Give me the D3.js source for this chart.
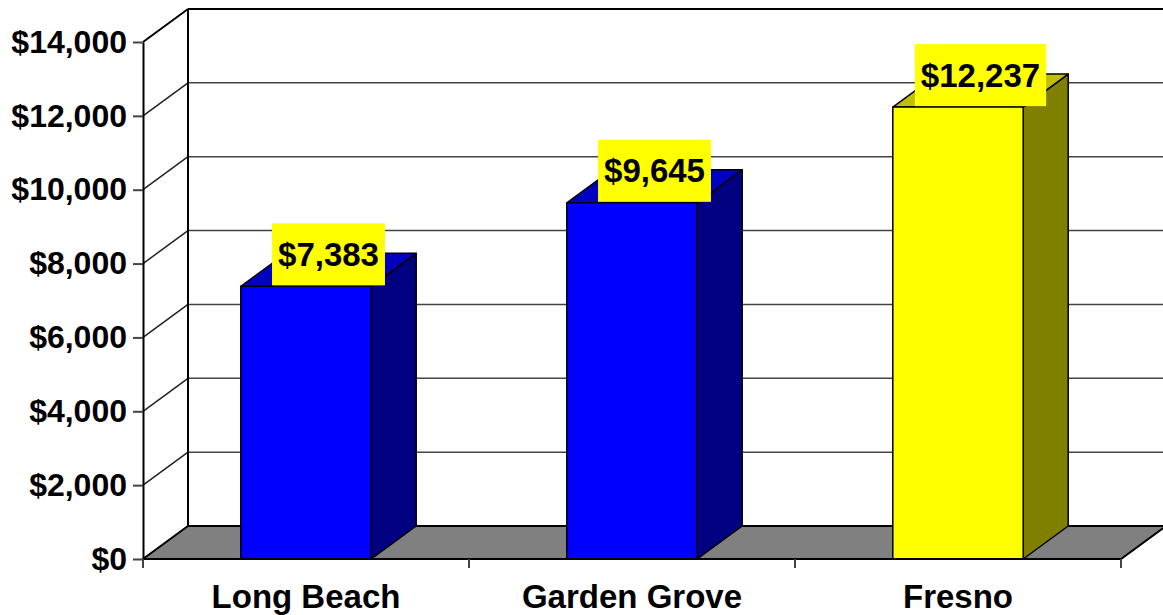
<!DOCTYPE html>
<html>
<head>
<meta charset="utf-8">
<script src="https://cdn.jsdelivr.net/npm/d3@7"></script>
<style>
  html, body { margin: 0; padding: 0; background: #fff; }
  svg { display: block; }
  text { font-family: "Liberation Sans", Arial, sans-serif; font-weight: bold; fill: #000; }
</style>
</head>
<body>
<svg id="chart" width="1163" height="615"></svg>
<script>
// Average cost per city
const categories = ["Long Beach", "Garden Grove", "Fresno"];
const values = [7383, 9645, 12237];
const highlight = [false, false, true];
const yTicks = [0, 2000, 4000, 6000, 8000, 10000, 12000, 14000];

const W = 1163, H = 615;
const plotLeft = 143, plotRight = 1121, plotBottom = 559, plotTop = 42;
const depthX = 45, depthY = -33;   // oblique offset of the back plane

const svg = d3.select("#chart");
const fmt = d3.format("$,");

const y = d3.scaleLinear().domain([0, 14000]).range([plotBottom, plotTop]);
const x = d3.scaleBand().domain(categories).range([plotLeft, plotRight])
  .paddingInner(0.6).paddingOuter(0.3);

const pt = (a, b) => a + "," + b;

// Floor
svg.append("polygon")
  .attr("points", [pt(plotLeft, plotBottom), pt(plotRight, plotBottom),
                   pt(plotRight + depthX, plotBottom + depthY), pt(plotLeft + depthX, plotBottom + depthY)].join(" "))
  .attr("fill", "#808080").attr("stroke", "#000").attr("stroke-width", 2);

// Gridlines on the back wall and the left side wall
const grid = svg.append("g");
yTicks.filter(t => t > 0).forEach(t => {
  const yy = y(t);
  const isTop = t === 14000;
  grid.append("line")
    .attr("x1", plotLeft + depthX).attr("x2", W + 5)
    .attr("y1", yy + depthY).attr("y2", yy + depthY)
    .attr("stroke", isTop ? "#000" : "#444").attr("stroke-width", isTop ? 2 : 1.5);
  grid.append("line")
    .attr("x1", plotLeft).attr("x2", plotLeft + depthX)
    .attr("y1", yy).attr("y2", yy + depthY)
    .attr("stroke", isTop ? "#000" : "#222").attr("stroke-width", isTop ? 2 : 1.5);
});
// Back wall left edge
grid.append("line")
  .attr("x1", plotLeft + depthX).attr("x2", plotLeft + depthX)
  .attr("y1", y(14000) + depthY).attr("y2", plotBottom + depthY)
  .attr("stroke", "#000").attr("stroke-width", 2);

// Bars as oblique boxes
const colors = {
  normal: { front: "#0000FF", side: "#000080", top: "#0000C0" },
  hi: { front: "#FFFF00", side: "#808000", top: "#C0C000" }
};
const bars = svg.append("g");
categories.forEach((c, i) => {
  const col = highlight[i] ? colors.hi : colors.normal;
  const x0 = x(c), x1 = x(c) + x.bandwidth();
  const y0 = y(0), y1 = y(values[i]);
  const g = bars.append("g").attr("stroke", "#000").attr("stroke-width", 1.5)
    .attr("stroke-linejoin", "round");
  g.append("polygon").attr("fill", col.side)
    .attr("points", [pt(x1, y0), pt(x1 + depthX, y0 + depthY),
                     pt(x1 + depthX, y1 + depthY), pt(x1, y1)].join(" "));
  g.append("polygon").attr("fill", col.top)
    .attr("points", [pt(x0, y1), pt(x1, y1),
                     pt(x1 + depthX, y1 + depthY), pt(x0 + depthX, y1 + depthY)].join(" "));
  g.append("rect").attr("fill", col.front)
    .attr("x", x0).attr("y", y1).attr("width", x1 - x0).attr("height", y0 - y1);
});

// Front value axis
const yAxis = svg.append("g").attr("transform", `translate(${plotLeft},0)`)
  .call(d3.axisLeft(y).tickValues(yTicks).tickFormat(fmt)
    .tickSize(10).tickSizeOuter(0).tickPadding(6));
yAxis.select(".domain").attr("stroke", "#000").attr("stroke-width", 2);
yAxis.selectAll(".tick line").attr("stroke", "#444").attr("stroke-width", 2);
yAxis.selectAll(".tick text")
  .style("font-family", "'Liberation Sans', Arial, sans-serif")
  .style("font-weight", "bold").attr("font-size", 32).attr("fill", "#000");

// Category axis along the front floor edge
const catAxis = svg.append("g");
catAxis.append("line").attr("x1", plotLeft).attr("x2", plotRight)
  .attr("y1", plotBottom).attr("y2", plotBottom).attr("stroke", "#000").attr("stroke-width", 2);
d3.range(categories.length + 1).forEach(k => {
  const bx = plotLeft + k * x.step();
  catAxis.append("line").attr("x1", bx).attr("x2", bx)
    .attr("y1", plotBottom).attr("y2", plotBottom + 9).attr("stroke", "#444").attr("stroke-width", 2);
});
categories.forEach(c => {
  catAxis.append("text")
    .attr("x", x(c) + x.bandwidth() / 2).attr("y", 608)
    .attr("text-anchor", "middle").attr("font-size", 33).text(c);
});

// Value labels in yellow boxes
const labels = svg.append("g");
categories.forEach((c, i) => {
  const cx = x(c) + x.bandwidth() / 2 + depthX / 2;
  const boxBottom = y(values[i]) - 1;
  const boxH = 62;
  const g = labels.append("g");
  const rect = g.append("rect").attr("fill", "#FFFF00");
  const t = g.append("text").attr("x", cx).attr("y", boxBottom - boxH / 2)
    .attr("text-anchor", "middle").attr("dominant-baseline", "central")
    .attr("font-size", 33).text(fmt(values[i]));
  const bb = t.node().getBBox();
  const bw = bb.width + 12;
  rect.attr("x", cx - bw / 2).attr("y", boxBottom - boxH).attr("width", bw).attr("height", boxH);
});
</script>
</body>
</html>
